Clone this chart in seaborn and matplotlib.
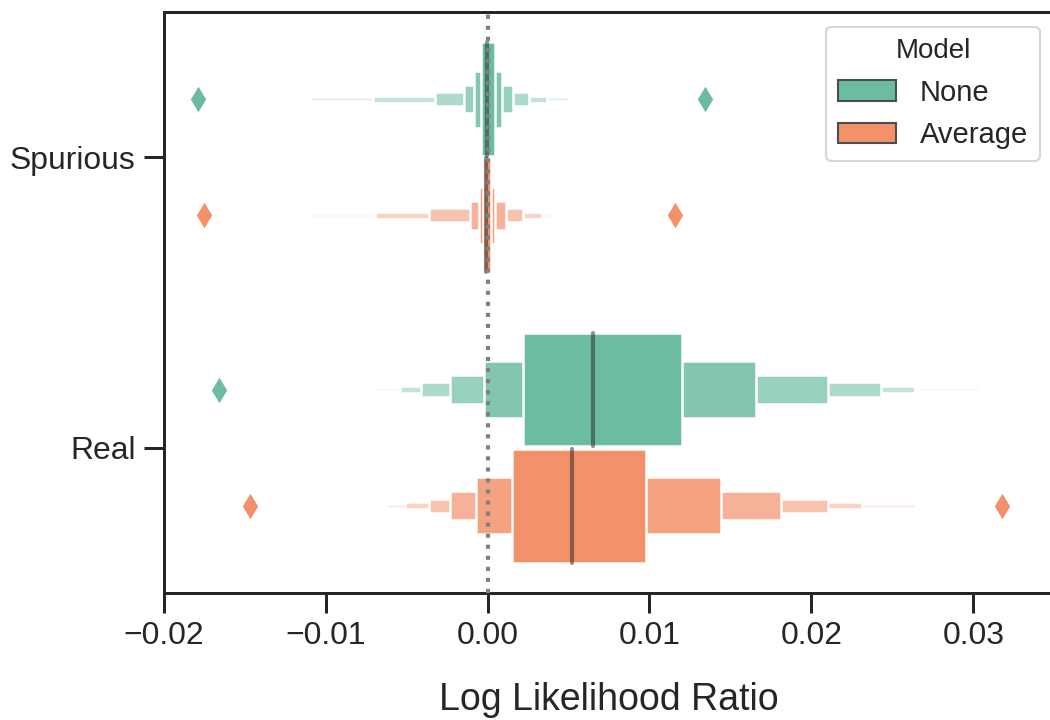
import numpy as np
import matplotlib
matplotlib.use("Agg")
import matplotlib.pyplot as plt
from matplotlib.patches import Patch
import seaborn as sns

# ── Data (letter values, innermost box first) ─────────────────────────────────
groups = ["Spurious", "Real"]
models = ["None", "Average"]

spurious_none_lo = [-0.00039, -0.00082, -0.00144, -0.00327, -0.00708, -0.01099]
spurious_none_hi = [0.00043, 0.00088, 0.00159, 0.00253, 0.00366, 0.00506]
spurious_none_med = -0.00003
spurious_none_out = [-0.0179, 0.0134]

spurious_avg_lo = [-0.00028, -0.00055, -0.00107, -0.00364, -0.00698, -0.01126]
spurious_avg_hi = [0.00022, 0.00045, 0.00111, 0.00216, 0.00338, 0.00424]
spurious_avg_med = -0.00012
spurious_avg_out = [-0.0175, 0.0116]

real_none_lo = [0.0022, -0.0002, -0.00235, -0.0041, -0.0054, -0.0069]
real_none_hi = [0.0120, 0.0166, 0.0210, 0.0243, 0.0264, 0.0304]
real_none_med = 0.0065
real_none_out = [-0.0166]

real_avg_lo = [0.0015, -0.0007, -0.0023, -0.0036, -0.0051, -0.0063]
real_avg_hi = [0.0098, 0.0144, 0.0181, 0.0210, 0.0231, 0.0264]
real_avg_med = 0.0052
real_avg_out = [-0.0147, 0.0318]

xticks = [-0.02, -0.01, 0.00, 0.01, 0.02, 0.03]

lv = {
    ("Spurious", "None"): (spurious_none_lo, spurious_none_hi, spurious_none_med, spurious_none_out),
    ("Spurious", "Average"): (spurious_avg_lo, spurious_avg_hi, spurious_avg_med, spurious_avg_out),
    ("Real", "None"): (real_none_lo, real_none_hi, real_none_med, real_none_out),
    ("Real", "Average"): (real_avg_lo, real_avg_hi, real_avg_med, real_avg_out),
}

# ── Style ─────────────────────────────────────────────────────────────────────
sns.set_style("ticks")
plt.rcParams["font.family"] = ["Liberation Sans", "DejaVu Sans"]
plt.rcParams["axes.edgecolor"] = ".15"
plt.rcParams["xtick.color"] = ".15"
plt.rcParams["ytick.color"] = ".15"
plt.rcParams["text.color"] = ".15"

pal = [np.array(sns.desaturate(c, 0.88)) for c in sns.color_palette("Set2", 2)]

fig = plt.figure(figsize=(7.0, 4.8), dpi=150)
ax = fig.add_axes([0.156, 0.1766, 0.848, 0.8067])

# ── Letter-value boxes ────────────────────────────────────────────────────────
box_w = 0.4 * 0.98
offsets = [-0.2, 0.2]
for gi, g in enumerate(groups):
    for mi, m in enumerate(models):
        lo, hi, med, out = lv[(g, m)]
        base = pal[mi]
        y = gi + offsets[mi]
        k = len(lo)
        for i in reversed(range(k)):
            t = 0.75 * i / (k - 1)
            col = base + (1 - base) * t
            ax.barh(y, hi[i] - lo[i], left=lo[i], height=box_w * 0.5 ** i,
                    color=col, edgecolor="white", linewidth=1.2, zorder=2)
        ax.plot([med, med], [y - box_w / 2, y + box_w / 2],
                color=".15", alpha=.5, lw=2, zorder=3)
        ax.scatter(out, [y] * len(out), marker="d", color=base, s=75,
                   linewidths=0, zorder=3)

ax.axvline(0, color="gray", ls=":", lw=2, zorder=5)

ax.set_xlim(-0.02, 0.035)
ax.set_ylim(1.5, -0.5)
ax.set_yticks(range(len(groups)))
ax.set_yticklabels(groups)
ax.set_xticks(xticks)
ax.set_xticklabels([f"{v:.2f}".replace("-", "\u2212") for v in xticks])
ax.set_xlabel("Log Likelihood Ratio", fontsize=18, labelpad=15)
ax.set_ylabel("")
ax.tick_params(axis="both", labelsize=15.3, length=9.6, width=1.44, pad=4)
for s in ax.spines.values():
    s.set_linewidth(1.44)

handles = [Patch(facecolor=pal[i], edgecolor=".3", linewidth=1, label=m)
           for i, m in enumerate(models)]
leg = ax.legend(handles=handles, title="Model", loc="upper right",
                fontsize=14, title_fontsize=13.3)

fig.savefig("out.png", dpi=150)
